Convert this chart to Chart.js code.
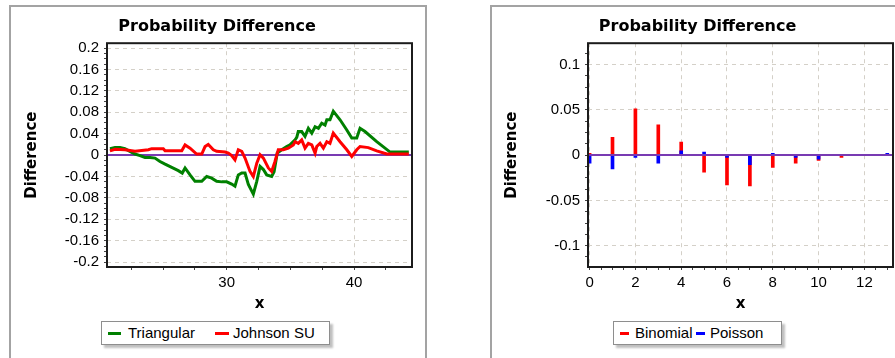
<!DOCTYPE html>
<html lang="en">

<head>
    <meta charset="UTF-8" />
    <title>Probability Difference</title>
    <script src="https://cdn.jsdelivr.net/npm/chart.js"></script>
    <style>
        html, body { margin: 0; padding: 0; background: #fff; overflow: hidden; width: 895px; height: 358px; }
        .painel { position: absolute; top: 5px; height: 400px; box-sizing: border-box; border: 2px solid #a3a3a3; }
        canvas { position: absolute; top: 7px; }
        .legenda { position: absolute; top: 321px; height: 24px; box-sizing: border-box; border: 1px solid #8e8e8e; background: #fff; box-shadow: 3px 3px 2px rgba(0, 0, 0, 0.25); font: 15px "Liberation Sans", Arial, sans-serif; color: #000; }
        .legenda span { position: absolute; }
        .marca { top: 10px; height: 3px; }
        .texto { top: 3px; line-height: 15px; white-space: nowrap; }
    </style>
</head>

<body>
    <div class="painel" style="left:9px; width:418px;"></div>
    <div class="painel" style="left:490px; width:430px;"></div>

    <canvas id="grafico_continuo" width="413" height="311" style="left:11px"></canvas>
    <canvas id="grafico_discreto" width="411" height="311" style="left:492px"></canvas>

    <!-- legendas -->
    <div class="legenda" style="left:101px; width:229px;">
        <span class="marca" style="left:6px; width:13px; background:#008000;"></span>
        <span class="texto" style="left:26px;">Triangular</span>
        <span class="marca" style="left:113px; width:14px; background:#ff0000;"></span>
        <span class="texto" style="left:131px;">Johnson SU</span>
    </div>
    <div class="legenda" style="left:613px; width:169px;">
        <span class="marca" style="left:6px; width:9px; background:#ff0000;"></span>
        <span class="texto" style="left:21px;">Binomial</span>
        <span class="marca" style="left:82px; width:9px; background:#0000ff;"></span>
        <span class="texto" style="left:96px;">Poisson</span>
    </div>

    <script>
        // grafico da esquerda - diferenca continua
        const triangularX = [20.83, 21.23, 21.62, 22.01, 22.40, 22.80, 23.19, 23.58, 23.98, 24.37, 24.76, 25.16, 25.68, 26.20, 26.51, 26.73, 27.12, 27.51, 28.04, 28.43, 28.82, 29.21, 29.61, 30.00, 30.39, 30.65, 30.91, 31.18, 31.44, 31.70, 32.09, 32.36, 32.62, 32.88, 33.14, 33.53, 33.72, 33.97, 34.32, 34.71, 34.97, 35.37, 35.50, 35.62, 35.89, 36.15, 36.41, 36.68, 36.94, 37.20, 37.46, 37.72, 37.86, 38.11, 38.37, 38.90, 39.43, 39.82, 40.21, 40.47, 40.86, 41.78, 42.83, 44.30];
        const triangularY = [0.012, 0.014, 0.014, 0.012, 0.007, 0.002, -0.001, -0.0045, -0.0045, -0.0056, -0.012, -0.017, -0.023, -0.029, -0.0335, -0.024, -0.037, -0.049, -0.049, -0.040, -0.043, -0.049, -0.050, -0.050, -0.054, -0.058, -0.037, -0.0335, -0.0335, -0.055, -0.073, -0.049, -0.021, -0.027, -0.037, -0.040, -0.031, 0.004, 0.010, 0.016, 0.019, 0.0285, 0.033, 0.044, 0.044, 0.035, 0.050, 0.041, 0.053, 0.050, 0.0595, 0.056, 0.066, 0.066, 0.082, 0.066, 0.047, 0.032, 0.032, 0.050, 0.044, 0.025, 0.0056, 0.0056];

        const johnsonX = [20.83, 21.23, 22.01, 22.80, 23.85, 24.11, 25.02, 25.16, 26.47, 26.73, 27.12, 27.64, 28.04, 28.30, 28.55, 28.95, 29.21, 29.87, 30.13, 30.39, 30.65, 30.91, 31.18, 31.44, 31.83, 32.09, 32.36, 32.62, 32.88, 33.27, 33.53, 33.79, 34.05, 34.45, 34.84, 35.23, 35.37, 35.62, 35.89, 36.15, 36.41, 36.68, 36.94, 37.07, 37.33, 37.59, 37.86, 38.11, 38.37, 38.90, 39.43, 39.82, 40.21, 40.47, 41.12, 41.78, 42.57, 44.30];
        const johnsonY = [0.008, 0.011, 0.010, 0.007, 0.010, 0.012, 0.012, 0.008, 0.008, 0.019, 0.013, 0.002, 0.002, 0.016, 0.020, 0.010, 0.007, 0.0056, 0.0037, -0.0007, -0.0087, 0.010, 0.007, -0.0056, -0.0305, -0.040, -0.015, 0.0006, -0.0056, -0.024, -0.0305, -0.012, 0.010, 0.010, 0.013, 0.019, 0.025, 0.022, 0.0285, 0.013, 0.022, 0.019, 0.0037, 0.016, 0.022, 0.013, 0.025, 0.022, 0.041, 0.025, 0.010, -0.0026, 0.010, 0.016, 0.014, 0.008, 0.002, 0.002];

        // grafico da direita - diferenca discreta
        const contagens = [0, 1, 2, 3, 4, 5, 6, 7, 8, 9, 10, 11, 12, 13];
        const binomial = [0.002, 0.0195, 0.051, 0.0335, 0.0144, -0.0188, -0.0329, -0.034, -0.0137, -0.0089, -0.006, -0.0027, -0.0005, 0];
        const poisson = [-0.0089, -0.0152, -0.0026, -0.0089, 0.0048, 0.0033, -0.0026, -0.0107, 0.002, -0.0026, -0.0045, -0.0003, 0, 0.002];

        // marcas com rotulo
        const yRotulosEsq = [-0.2, -0.16, -0.12, -0.08, -0.04, 0, 0.04, 0.08, 0.12, 0.16, 0.2];
        const xRotulosEsq = [30, 40];
        const yRotulosDir = [-0.1, -0.05, 0, 0.05, 0.1];
        const xRotulosDir = [0, 2, 4, 6, 8, 10, 12];

        const corGrade = 'rgb(212,208,200)';
        const corZero = 'rgb(120,58,178)';

        function marcas(ini, fim, passo) {
            const lista = [];
            const n = Math.round((fim - ini) / passo);
            for (let i = 0; i <= n; i++) {
                lista.push(Math.round((ini + i * passo) * 1e5) / 1e5);
            }
            return lista;
        }

        function ehRotulo(v, lista) {
            return lista.some(m => Math.abs(m - v) < 1e-6);
        }

        function configEixo(o) {
            return {
                type: 'linear',
                min: o.min,
                max: o.max,
                offset: false,
                afterBuildTicks: s => { s.ticks = o.menores.map(v => ({ value: v })); },
                afterFit: s => { if (o.horizontal) s.height = o.tamanho; else s.width = o.tamanho; },
                ticks: {
                    autoSkip: false,
                    maxRotation: 0,
                    color: '#000',
                    font: { family: 'Liberation Sans', size: 15 },
                    padding: o.horizontal ? 4 : 5,
                    callback: v => ehRotulo(v, o.rotulos) ? String(+v.toFixed(2)) : ''
                },
                grid: {
                    offset: false,
                    color: c => (c.tick && ehRotulo(c.tick.value, o.rotulos)) ? corGrade : 'rgba(0,0,0,0)',
                    tickColor: '#444',
                    tickLength: 3,
                    lineWidth: 1
                },
                border: { display: false, dash: [4, 4] },
                title: {
                    display: true,
                    text: o.titulo,
                    color: '#000',
                    font: { family: 'DejaVu Sans', size: 15, weight: 'bold' },
                    padding: o.horizontal ? { top: 0, bottom: 5 } : { top: 1, bottom: 0 }
                }
            };
        }

        // moldura preta e linha do zero
        function linhaZero(chart) {
            const a = chart.chartArea;
            const y = chart.scales.y.getPixelForValue(0);
            const ctx = chart.ctx;
            ctx.save();
            ctx.strokeStyle = corZero;
            ctx.lineWidth = 2;
            ctx.beginPath();
            ctx.moveTo(a.left, y);
            ctx.lineTo(a.right, y);
            ctx.stroke();
            ctx.restore();
        }

        const moldura = {
            id: 'moldura',
            beforeDatasetsDraw(chart, args, opts) { if (!opts.zeroPorCima) linhaZero(chart); },
            afterDatasetsDraw(chart, args, opts) { if (opts.zeroPorCima) linhaZero(chart); },
            afterDraw(chart) {
                const a = chart.chartArea;
                const ctx = chart.ctx;
                ctx.save();
                ctx.strokeStyle = '#1c1c1c';
                ctx.lineWidth = 2;
                ctx.strokeRect(a.left, a.top, a.right - a.left, a.bottom - a.top);
                ctx.restore();
            }
        };

        const tituloGrafico = {
            display: true,
            text: 'Probability Difference',
            color: '#000',
            font: { family: 'DejaVu Sans', size: 16, weight: 'bold' },
            padding: { top: 10, bottom: 7 }
        };

        function plotarGraficoContinuo() {
            const dataLinhas = {
                datasets: [{
                    label: 'Triangular',
                    data: triangularX.map((x, i) => ({ x: x, y: triangularY[i] })),
                    borderColor: 'rgb(0,128,0)',
                    borderWidth: 3,
                    pointRadius: 0,
                    tension: 0,
                    order: 1
                }, {
                    label: 'Johnson SU',
                    data: johnsonX.map((x, i) => ({ x: x, y: johnsonY[i] })),
                    borderColor: 'rgb(255,0,0)',
                    borderWidth: 3,
                    pointRadius: 0,
                    tension: 0,
                    order: 0
                }]
            };

            new Chart(document.getElementById('grafico_continuo'), {
                type: 'line',
                data: dataLinhas,
                options: {
                    responsive: false,
                    animation: false,
                    layout: { padding: { left: 11, right: 12, top: 0, bottom: 0 } },
                    plugins: {
                        legend: { display: false },
                        tooltip: { enabled: false },
                        title: tituloGrafico,
                        moldura: { zeroPorCima: false }
                    },
                    scales: {
                        x: configEixo({ min: 20.6, max: 44.55, menores: marcas(22.5, 42.5, 2.5), rotulos: xRotulosEsq, titulo: 'x', horizontal: true, tamanho: 51 }),
                        y: configEixo({ min: -0.209, max: 0.209, menores: marcas(-0.2, 0.2, 0.01), rotulos: yRotulosEsq, titulo: 'Difference', horizontal: false, tamanho: 85 })
                    }
                },
                plugins: [moldura]
            });
        }

        function plotarGraficoDiscreto() {
            const dataBarras = {
                datasets: [{
                    label: 'Binomial',
                    data: contagens.map((c, i) => ({ x: c, y: binomial[i] })),
                    backgroundColor: 'rgb(255,0,0)',
                    barThickness: 3,
                    grouped: false,
                    order: 1
                }, {
                    label: 'Poisson',
                    data: contagens.map((c, i) => ({ x: c, y: poisson[i] })),
                    backgroundColor: 'rgb(0,0,255)',
                    barThickness: 3,
                    grouped: false,
                    order: 0
                }]
            };

            new Chart(document.getElementById('grafico_discreto'), {
                type: 'bar',
                data: dataBarras,
                options: {
                    responsive: false,
                    animation: false,
                    layout: { padding: { left: 10, right: 10, top: 0, bottom: 0 } },
                    plugins: {
                        legend: { display: false },
                        tooltip: { enabled: false },
                        title: tituloGrafico,
                        moldura: { zeroPorCima: true }
                    },
                    scales: {
                        x: configEixo({ min: -0.07, max: 13.25, menores: marcas(0, 13, 0.5), rotulos: xRotulosDir, titulo: 'x', horizontal: true, tamanho: 51 }),
                        y: configEixo({ min: -0.1236, max: 0.1236, menores: marcas(-0.1125, 0.1125, 0.0125), rotulos: yRotulosDir, titulo: 'Difference', horizontal: false, tamanho: 86 })
                    }
                },
                plugins: [moldura]
            });
        }

        plotarGraficoContinuo();
        plotarGraficoDiscreto();
    </script>
</body>

</html>
